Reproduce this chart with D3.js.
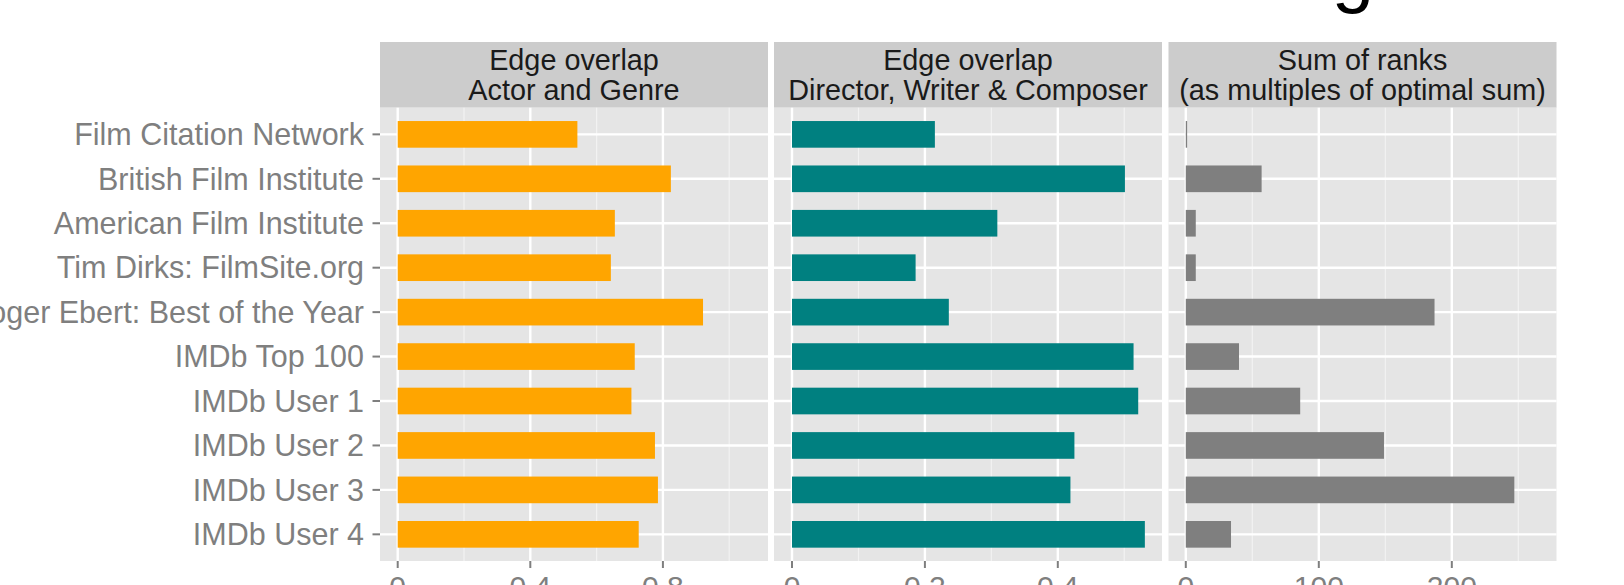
<!DOCTYPE html>
<html>
<head>
<meta charset="utf-8">
<script src="https://cdn.jsdelivr.net/npm/d3@7"></script>
<style>
  html, body { margin: 0; padding: 0; background: #ffffff; }
  svg { display: block; }
  text { font-family: "Liberation Sans", Arial, Helvetica, sans-serif; }
</style>
</head>
<body>
<svg id="chart" width="1624" height="585"></svg>
<script>
// ---------------- data ----------------
const categories = [
  "Film Citation Network",
  "British Film Institute",
  "American Film Institute",
  "Tim Dirks: FilmSite.org",
  "Roger Ebert: Best of the Year",
  "IMDb Top 100",
  "IMDb User 1",
  "IMDb User 2",
  "IMDb User 3",
  "IMDb User 4"
];
const actorGenreOverlap = [0.542, 0.824, 0.655, 0.643, 0.921, 0.715, 0.705, 0.776, 0.785, 0.727];
const directorWriterComposerOverlap = [0.215, 0.501, 0.309, 0.186, 0.236, 0.514, 0.521, 0.425, 0.419, 0.531];
const sumOfRanks = [1, 57, 7.5, 7.5, 187, 40, 86, 149, 247, 34];

const facetTitles = [
  ["Edge overlap", "Actor and Genre"],
  ["Edge overlap", "Director, Writer & Composer"],
  ["Sum of ranks", "(as multiples of optimal sum)"]
];
const majorTicks = [[0, 0.4, 0.8], [0, 0.2, 0.4], [0, 100, 200]];
const minorTicks = [[0.2, 0.6, 1.0], [0.1, 0.3, 0.5], [50, 150, 250]];
const tickLabels = [["0", "0.4", "0.8"], ["0", "0.2", "0.4"], ["0", "100", "200"]];
const xLimits = [[-0.0534, 1.117], [-0.0271, 0.5568], [-13, 278.7]];
const barColors = ["#FFA500", "#008080", "#7f7f7f"];
const titleText = "Ranking";

// ---------------- layout ----------------
const svg = d3.select("#chart");
const panelLefts = [380, 774, 1168.5];
const panelW = 388;
const stripTop = 42, stripBottom = 107.7, panelBottom = 561;
const axisColor = "#7f7f7f";

const series = [actorGenreOverlap, directorWriterComposerOverlap, sumOfRanks];

const y = d3.scaleBand()
  .domain(categories)
  .range([stripBottom, panelBottom])
  .paddingInner(0.4)
  .paddingOuter(0.3);

// cut-off title at the top (only the descender of its last letter is visible)
svg.append("text")
  .attr("x", 1374)
  .attr("y", -2)
  .attr("text-anchor", "end")
  .attr("font-size", 76)
  .attr("fill", "#000")
  .text(titleText);

series.forEach((vals, i) => {
  const left = panelLefts[i];
  const x = d3.scaleLinear().domain(xLimits[i]).range([left, left + panelW]);
  const g = svg.append("g");

  // strip
  g.append("rect")
    .attr("x", left).attr("y", stripTop)
    .attr("width", panelW).attr("height", stripBottom - stripTop)
    .attr("fill", "#cccccc");
  g.append("text")
    .attr("x", left + panelW / 2)
    .attr("text-anchor", "middle")
    .attr("font-size", 28.8)
    .attr("fill", "#1a1a1a")
    .selectAll("tspan")
    .data(facetTitles[i])
    .join("tspan")
    .attr("x", left + panelW / 2)
    .attr("y", (d, k) => 70 + k * 30)
    .text(d => d);

  // panel background
  g.append("rect")
    .attr("x", left).attr("y", stripBottom)
    .attr("width", panelW).attr("height", panelBottom - stripBottom)
    .attr("fill", "#e5e5e5");

  // minor vertical grid
  g.selectAll(".minor")
    .data(minorTicks[i])
    .join("line")
    .attr("x1", d => x(d)).attr("x2", d => x(d))
    .attr("y1", stripBottom).attr("y2", panelBottom)
    .attr("stroke", "#f2f2f2").attr("stroke-width", 1.2);

  // major vertical grid
  g.selectAll(".major")
    .data(majorTicks[i])
    .join("line")
    .attr("x1", d => x(d)).attr("x2", d => x(d))
    .attr("y1", stripBottom).attr("y2", panelBottom)
    .attr("stroke", "#ffffff").attr("stroke-width", 2.4);

  // horizontal grid
  g.selectAll(".hgrid")
    .data(categories)
    .join("line")
    .attr("x1", left).attr("x2", left + panelW)
    .attr("y1", d => y(d) + y.bandwidth() / 2)
    .attr("y2", d => y(d) + y.bandwidth() / 2)
    .attr("stroke", "#ffffff").attr("stroke-width", 2.4);

  // bars
  g.selectAll(".bar")
    .data(vals)
    .join("rect")
    .attr("x", x(0))
    .attr("y", (d, k) => y(categories[k]))
    .attr("width", d => x(d) - x(0))
    .attr("height", y.bandwidth())
    .attr("fill", barColors[i]);

  // x axis ticks + labels
  g.selectAll(".xtick")
    .data(majorTicks[i])
    .join("line")
    .attr("x1", d => x(d)).attr("x2", d => x(d))
    .attr("y1", panelBottom).attr("y2", panelBottom + 7)
    .attr("stroke", axisColor).attr("stroke-width", 2);
  g.selectAll(".xlab")
    .data(majorTicks[i])
    .join("text")
    .attr("x", d => x(d))
    .attr("y", 596.5)
    .attr("text-anchor", "middle")
    .attr("font-size", 30)
    .attr("fill", axisColor)
    .text((d, k) => tickLabels[i][k]);
});

// y axis ticks + labels (left of first panel)
const ya = svg.append("g");
ya.selectAll("line")
  .data(categories)
  .join("line")
  .attr("x1", 372.5).attr("x2", panelLefts[0])
  .attr("y1", d => y(d) + y.bandwidth() / 2)
  .attr("y2", d => y(d) + y.bandwidth() / 2)
  .attr("stroke", axisColor).attr("stroke-width", 2);
ya.selectAll("text")
  .data(categories)
  .join("text")
  .attr("x", 364)
  .attr("y", d => y(d) + y.bandwidth() / 2 + 10.8)
  .attr("text-anchor", "end")
  .attr("font-size", 30.5)
  .attr("fill", axisColor)
  .text(d => d);
</script>
</body>
</html>
